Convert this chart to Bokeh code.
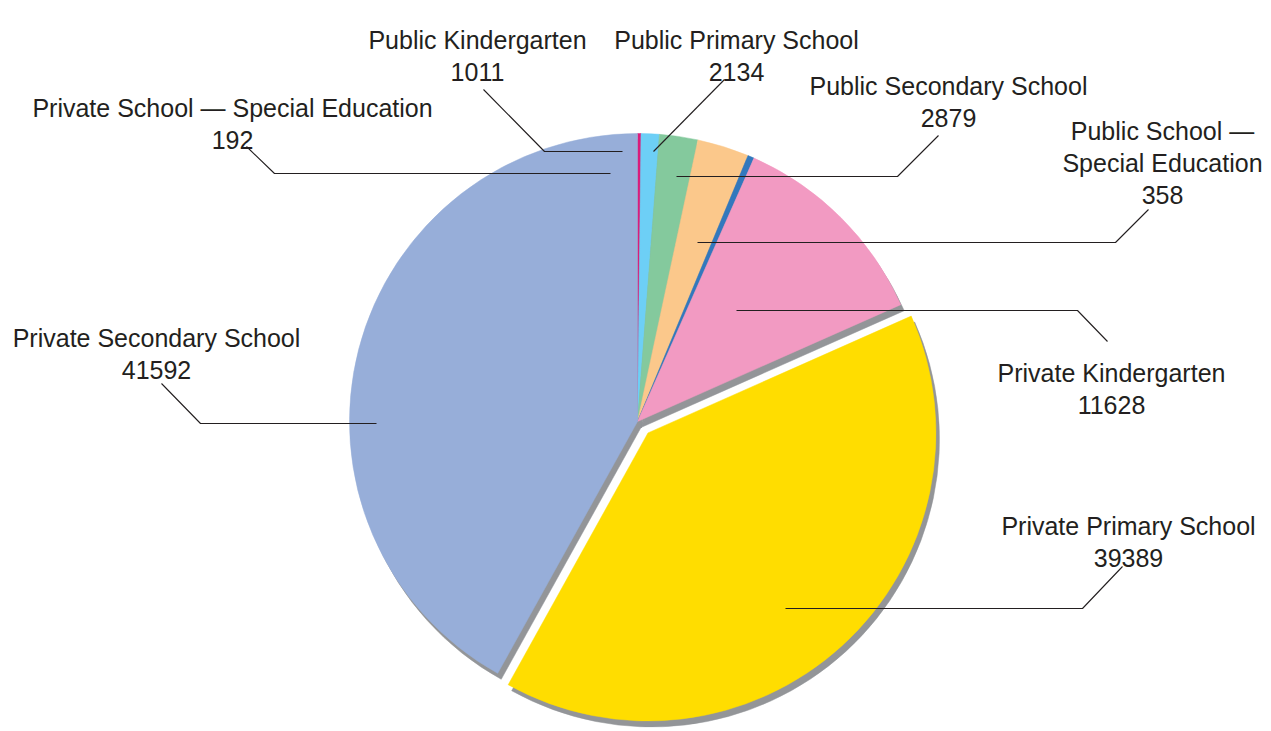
import numpy as np
from bokeh.plotting import figure
from bokeh.models import Range1d, ColumnDataSource
from bokeh.core.properties import value
from bokeh.embed import file_html
from bokeh.resources import INLINE

# ---- data (clockwise from 12 o'clock) ----
categories = [
    "Private School — Special Education",
    "Public Kindergarten",
    "Public Primary School",
    "Public Secondary School",
    "Public School — Special Education",
    "Private Kindergarten",
    "Private Primary School",
    "Private Secondary School",
]
values = [192, 1011, 2134, 2879, 358, 11628, 39389, 41592]
colors = ["#DA1C7B", "#6DCFF6", "#84C99D", "#FBC88B", "#3278BD", "#F29AC2", "#FFDD00", "#97AED9"]
exploded = [False, False, False, False, False, False, True, False]
wrapped = [False, False, False, False, True, False, False, False]

# ---- layout (pixel coordinates, y measured from top) ----
W, H = 1271, 731
CX, CY, R = 637, 421, 288
EXPLODE = 15.5
SHADOW = (3.5, 6.0)
LINE_GAP = 32
label_pos = [(232, 107), (477, 39), (736, 39), (948, 85), (1162, 130),
             (1111, 372), (1128, 525), (156, 337)]
leaders = [
    [(246, 146), (274, 173), (610, 173)],
    [(483, 89), (544, 151), (622, 151)],
    [(724, 79), (653, 151)],
    [(938, 135), (897, 176), (676, 176)],
    [(1148, 209), (1115, 242), (697, 242)],
    [(1107, 341), (1077, 310), (736, 310)],
    [(1122, 566), (1082, 608), (785, 608)],
    [(161, 383), (200, 423), (376, 423)],
]

def fy(py):
    return H - py

vals = np.array(values, dtype=float)
total = vals.sum()
cum = np.concatenate([[0], np.cumsum(vals)]) / total
a_start = np.pi / 2 - cum[:-1] * 2 * np.pi   # top, going clockwise
a_end = np.pi / 2 - cum[1:] * 2 * np.pi
mid = (a_start + a_end) / 2
off = np.array([EXPLODE if e else 0.0 for e in exploded])
xc = CX + off * np.cos(mid)
yc = fy(CY) + off * np.sin(mid)

src = ColumnDataSource(dict(x=xc, y=yc, sx=xc + SHADOW[0], sy=yc - SHADOW[1],
                            s=a_end, e=a_start, color=colors))

p = figure(width=W, height=H, x_range=Range1d(0, W), y_range=Range1d(0, H),
           x_axis_type=None, y_axis_type=None, toolbar_location=None,
           output_backend="svg", min_border=0, outline_line_color=None,
           background_fill_color="white", border_fill_color="white")
p.grid.visible = False

# shadows
p.wedge(x="sx", y="sy", radius=R, start_angle="s", end_angle="e",
        direction="anticlock", fill_color="#939598", line_color="#939598",
        line_width=0.5, source=src)
# slices
p.wedge(x="x", y="y", radius=R, start_angle="s", end_angle="e",
        direction="anticlock", fill_color="color", line_color="color",
        line_width=0.5, source=src)

# leader lines
p.multi_line(xs=[[pt[0] for pt in l] for l in leaders],
             ys=[[fy(pt[1]) for pt in l] for l in leaders],
             line_color="#231F20", line_width=1.1)

# labels
tx, ty, tt = [], [], []
for cat, v, wr, (lx, ly) in zip(categories, values, wrapped, label_pos):
    if wr:
        a, b = cat.split("— ")
        lines = [a + "—", b, str(v)]
    else:
        lines = [cat, str(v)]
    for i, t in enumerate(lines):
        tx.append(lx)
        ty.append(fy(ly + i * LINE_GAP))
        tt.append(t)
p.text(x=tx, y=ty, text=tt, text_font=value("Liberation Sans"),
       text_font_size="25px", text_align="center", text_baseline="alphabetic",
       text_color="#231F20")

open("out.html", "w").write(file_html(p, INLINE))
